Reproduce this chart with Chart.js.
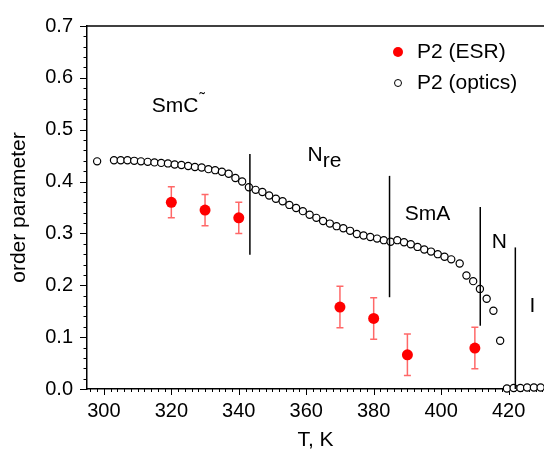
<!DOCTYPE html>
<html>
<head>
<meta charset="utf-8">
<script src="https://cdn.jsdelivr.net/npm/chart.js@4.4.1/dist/chart.umd.min.js"></script>
<style>
  html, body { margin: 0; padding: 0; background: #fff; }
  #wrap { width: 544px; height: 450px; }
</style>
</head>
<body>
<div id="wrap"><canvas id="chart" width="544" height="450"></canvas></div>
<script>
// P2 from optics (open circles)
const opticsT = [298, 303, 305, 307, 309, 311, 313, 315, 317, 319, 321, 323, 325, 327, 329,
  331, 333, 335, 337, 339, 341, 343, 345, 347, 349, 351, 353, 355, 357, 359, 361, 363,
  365, 367, 369, 371, 373, 375, 377, 379, 381, 383, 385, 387, 389, 391, 393, 395, 397,
  399, 401, 403, 405.5, 407.5, 409.5, 411.5, 413.5, 415.5, 417.5, 419.5, 421.5, 423.5,
  425.5, 427.5, 429.5];
const opticsP2 = [0.439, 0.441, 0.441, 0.441, 0.440, 0.439, 0.438, 0.437, 0.436, 0.435,
  0.433, 0.432, 0.430, 0.428, 0.427, 0.424, 0.422, 0.419, 0.415, 0.407, 0.400, 0.389,
  0.384, 0.380, 0.373, 0.367, 0.362, 0.355, 0.349, 0.343, 0.336, 0.330, 0.324, 0.319,
  0.314, 0.310, 0.305, 0.299, 0.296, 0.293, 0.290, 0.287, 0.284, 0.287, 0.283, 0.279,
  0.274, 0.269, 0.265, 0.260, 0.255, 0.250, 0.242, 0.219, 0.208, 0.193, 0.174, 0.151,
  0.093, 0.001, 0.002, 0.002, 0.003, 0.003, 0.003];

// P2 from ESR (red dots) with error bars
const esrT = [320, 330, 340, 370, 380, 390, 410];
const esrP2 = [0.360, 0.345, 0.330, 0.158, 0.136, 0.066, 0.079];
const esrErr = [0.030, 0.030, 0.030, 0.040, 0.040, 0.040, 0.040];

// phase boundaries (vertical lines)
const boundaryT = [343.3, 384.7, 411.6, 422.0];
const boundaryLow = [0.259, 0.177, 0.122, 0.0];
const boundaryHigh = [0.453, 0.411, 0.351, 0.273];

// phase labels
const phaseName = ["SmC", "N", "SmA", "N", "I"];
const phaseSup = ["˜", "", "", "", ""];
const phaseSub = ["", "re", "", "", ""];
const phaseT = [314.2, 360.4, 389.2, 415.0, 426.2];
const phaseY = [0.546, 0.450, 0.338, 0.284, 0.160];

// axis ticks
const xTicks = [300, 320, 340, 360, 380, 400, 420];
const yTicks = [0, 0.1, 0.2, 0.3, 0.4, 0.5, 0.6, 0.7];

const legendLabels = ["P2 (ESR)", "P2 (optics)"];

const FONT = "'Liberation Sans', Arial, Helvetica, sans-serif";

// ticks, frame, error bars, labels and legend
const decorations = {
    id: "decorations",
    beforeDatasetsDraw(chart) {
        const { ctx, chartArea: a, scales: { x, y } } = chart;
        ctx.save();
        ctx.strokeStyle = "#000";
        ctx.lineWidth = 1.5;
        // top frame line
        ctx.beginPath();
        ctx.moveTo(a.left, a.top);
        ctx.lineTo(a.right, a.top);
        ctx.stroke();

        ctx.lineWidth = 1;
        ctx.beginPath();
        // x ticks every 2 K, major every 20 K
        for (let t = 296; t <= 430; t += 2) {
            const px = Math.round(x.getPixelForValue(t)) + 0.5;
            const len = t % 20 === 0 ? 6 : 3;
            ctx.moveTo(px, a.bottom);
            ctx.lineTo(px, a.bottom + len);
        }
        // y ticks every 0.02, major every 0.1
        for (let i = 0; i <= 35; i++) {
            const py = Math.round(y.getPixelForValue(i * 0.02)) + 0.5;
            const len = i % 5 === 0 ? 7 : 3.5;
            ctx.moveTo(a.left, py);
            ctx.lineTo(a.left - len, py);
        }
        ctx.stroke();

        // error bars under the red dots
        ctx.strokeStyle = "rgba(255, 40, 40, 0.7)";
        ctx.lineWidth = 1.5;
        ctx.beginPath();
        esrT.forEach((t, i) => {
            const px = x.getPixelForValue(t);
            const top = y.getPixelForValue(esrP2[i] + esrErr[i]);
            const bot = y.getPixelForValue(esrP2[i] - esrErr[i]);
            ctx.moveTo(px, top);
            ctx.lineTo(px, bot);
            ctx.moveTo(px - 3.5, top);
            ctx.lineTo(px + 3.5, top);
            ctx.moveTo(px - 3.5, bot);
            ctx.lineTo(px + 3.5, bot);
        });
        ctx.stroke();
        ctx.restore();
    },
    afterDraw(chart) {
        const { ctx, scales: { x, y } } = chart;
        ctx.save();
        ctx.fillStyle = "#000";
        ctx.textAlign = "left";
        ctx.textBaseline = "middle";

        // phase labels
        phaseName.forEach((name, i) => {
            const px = x.getPixelForValue(phaseT[i]);
            const py = y.getPixelForValue(phaseY[i]);
            ctx.font = "21px " + FONT;
            ctx.fillText(name, px, py);
            const w = ctx.measureText(name).width;
            if (phaseSup[i]) {
                ctx.font = "16px " + FONT;
                ctx.fillText(phaseSup[i], px + w + 1, py - 6);
            }
            if (phaseSub[i]) {
                ctx.font = "21px " + FONT;
                ctx.fillText(phaseSub[i], px + w, py + 6);
            }
        });

        // legend
        ctx.font = "21px " + FONT;
        const lx = 398, ly = [52, 83];
        ctx.fillStyle = "#ff0000";
        ctx.beginPath();
        ctx.arc(lx, ly[0], 5, 0, Math.PI * 2);
        ctx.fill();
        ctx.fillStyle = "#fff";
        ctx.strokeStyle = "#000";
        ctx.lineWidth = 1;
        ctx.beginPath();
        ctx.arc(lx, ly[1], 3.5, 0, Math.PI * 2);
        ctx.fill();
        ctx.stroke();
        ctx.fillStyle = "#000";
        legendLabels.forEach((lbl, i) => ctx.fillText(lbl, 417, ly[i]));
        ctx.restore();
    }
};

const boundaryDatasets = boundaryT.map((t, i) => ({
    data: [{ x: t, y: boundaryLow[i] }, { x: t, y: boundaryHigh[i] }],
    showLine: true,
    borderColor: "#000",
    borderWidth: 1.5,
    pointRadius: 0,
    clip: false,
    order: 0
}));

const chart = new Chart(document.getElementById("chart"), {
    type: "scatter",
    data: {
        datasets: [
            ...boundaryDatasets,
            {
                label: legendLabels[0],
                data: esrT.map((t, i) => ({ x: t, y: esrP2[i] })),
                pointRadius: 5.5,
                pointBackgroundColor: "#ff0000",
                pointBorderWidth: 0,
                order: 1
            },
            {
                label: legendLabels[1],
                data: opticsT.map((t, i) => ({ x: t, y: opticsP2[i] })),
                pointRadius: 3.6,
                pointBackgroundColor: "#fff",
                pointBorderColor: "#000",
                pointBorderWidth: 1.2,
                clip: false,
                order: 2
            }
        ]
    },
    options: {
        responsive: false,
        animation: false,
        layout: { autoPadding: false, padding: { top: 22, right: 0, left: 0, bottom: 0 } },
        plugins: {
            legend: { display: false },
            tooltip: { enabled: false }
        },
        scales: {
            x: {
                type: "linear",
                min: 295,
                max: 430.5,
                afterBuildTicks: (s) => { s.ticks = xTicks.map(v => ({ value: v })); },
                afterFit: (s) => { s.height = 61; },
                grid: { display: false, drawTicks: false },
                border: { display: true, color: "#000", width: 1.5 },
                ticks: {
                    color: "#000",
                    padding: 10,
                    autoSkip: false,
                    maxRotation: 0,
                    font: { family: FONT, size: 20 }
                },
                title: {
                    display: true,
                    text: "T, K",
                    color: "#000",
                    padding: { top: 0, bottom: -1 },
                    font: { family: FONT, size: 21, lineHeight: 1 }
                }
            },
            y: {
                type: "linear",
                min: 0,
                max: 0.7,
                afterBuildTicks: (s) => { s.ticks = yTicks.map(v => ({ value: v })); },
                afterFit: (s) => { s.width = 87; },
                grid: { display: false, drawTicks: false },
                border: { display: true, color: "#000", width: 1.5 },
                ticks: {
                    color: "#000",
                    padding: 14,
                    font: { family: FONT, size: 20 },
                    callback: (v) => Number(v).toFixed(1)
                },
                title: {
                    display: true,
                    text: "order parameter",
                    color: "#000",
                    padding: { top: 9, bottom: 0 },
                    font: { family: FONT, size: 21, lineHeight: 1 }
                }
            }
        }
    },
    plugins: [decorations]
});
</script>
</body>
</html>
